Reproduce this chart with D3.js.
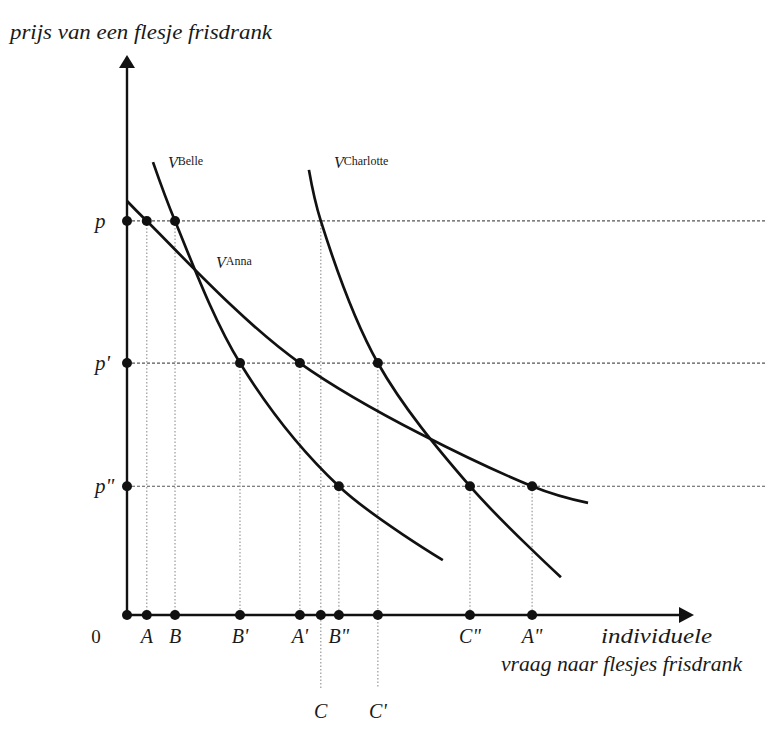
<!DOCTYPE html>
<html>
<head>
<meta charset="utf-8">
<script src="https://cdn.jsdelivr.net/npm/d3@7"></script>
<style>
  body { margin: 0; background: #fff; }
  svg text { font-family: "Liberation Serif", "DejaVu Serif", serif; fill: #1a1a1a; }
</style>
</head>
<body>
<svg id="chart"></svg>
<script>
// price levels (y) and their labels
const prices = [71, 45.4, 23.2];
const priceLabels = ["p", "p'", "p\""];

// quantity demanded per person at each price level
const annaQ = [3.5, 30.6, 71.7];
const belleQ = [8.5, 20, 37.5];
const charlotteQ = [34.3, 44.4, 60.7];

const annaLabels = ["A", "A'", "A\""];
const belleLabels = ["B", "B'", "B\""];
const charlotteLabels = ["C", "C'", "C\""];

// extra curve points: [start, end] as [q, price]
const annaEnds = [[0, 74.6], [81.6, 20.2]];
const belleEnds = [[4.6, 81.6], [55.9, 9.9]];
const charlotteEnds = [[32.2, 80.2], [76.8, 6.8]];

const width = 767;
const height = 732;

const svg = d3.select("#chart").attr("width", width).attr("height", height);

const x = d3.scaleLinear().domain([0, 100]).range([127, 692]);
const y = d3.scaleLinear().domain([0, 100]).range([615, 60]);

function curvePoints(ends, qs) {
  let pts = [ends[0]];
  qs.forEach(function (q, i) {
    pts.push([q, prices[i]]);
  });
  pts.push(ends[1]);
  return pts;
}

const line = d3.line()
  .x(function (d) { return x(d[0]); })
  .y(function (d) { return y(d[1]); })
  .curve(d3.curveCatmullRom.alpha(0.5));

// horizontal dashed price lines
svg.selectAll("line.hp")
  .data(prices)
  .enter()
  .append("line")
  .attr("x1", x(0))
  .attr("x2", width)
  .attr("y1", function (d) { return y(d); })
  .attr("y2", function (d) { return y(d); })
  .attr("stroke", "#555")
  .attr("stroke-width", 1.2)
  .attr("stroke-dasharray", "3,2");

// vertical dotted lines
let people = [
  { q: annaQ, labels: annaLabels, ends: annaEnds, name: "Anna" },
  { q: belleQ, labels: belleLabels, ends: belleEnds, name: "Belle" },
  { q: charlotteQ, labels: charlotteLabels, ends: charlotteEnds, name: "Charlotte" }
];

let drops = [];
people.forEach(function (p) {
  p.q.forEach(function (q, i) {
    drops.push({ q: q, price: prices[i], label: p.labels[i], name: p.name });
  });
});

svg.selectAll("line.vp")
  .data(drops)
  .enter()
  .append("line")
  .attr("x1", function (d) { return x(d.q); })
  .attr("x2", function (d) { return x(d.q); })
  .attr("y1", function (d) { return y(d.price); })
  .attr("y2", function (d) {
    return d.label == "C" || d.label == "C'" ? 688 : y(0);
  })
  .attr("stroke", "#999")
  .attr("stroke-width", 1.2)
  .attr("stroke-dasharray", "1.5,2");

// demand curves
svg.selectAll("path.curve")
  .data(people)
  .enter()
  .append("path")
  .attr("d", function (p) { return line(curvePoints(p.ends, p.q)); })
  .attr("fill", "none")
  .attr("stroke", "#111")
  .attr("stroke-width", 2.7);

// axes
svg.append("line")
  .attr("x1", x(0)).attr("x2", x(0))
  .attr("y1", y(0)).attr("y2", 66)
  .attr("stroke", "#111").attr("stroke-width", 2.4);
svg.append("line")
  .attr("x1", x(0)).attr("x2", 682)
  .attr("y1", y(0)).attr("y2", y(0))
  .attr("stroke", "#111").attr("stroke-width", 2.4);
svg.append("path")
  .attr("d", "M" + x(0) + ",55 L" + (x(0) - 8) + ",68 L" + (x(0) + 8) + ",68 Z")
  .attr("fill", "#111");
svg.append("path")
  .attr("d", "M694," + y(0) + " L679," + (y(0) - 8) + " L679," + (y(0) + 8) + " Z")
  .attr("fill", "#111");

// dots on curves (Charlotte at p has none)
svg.selectAll("circle.pt")
  .data(drops.filter(function (d) { return d.label != "C"; }))
  .enter()
  .append("circle")
  .attr("cx", function (d) { return x(d.q); })
  .attr("cy", function (d) { return y(d.price); })
  .attr("r", 5)
  .attr("fill", "#111");

// dots on x axis
svg.selectAll("circle.xq")
  .data([0].concat(drops.map(function (d) { return d.q; })))
  .enter()
  .append("circle")
  .attr("cx", function (d) { return x(d); })
  .attr("cy", y(0))
  .attr("r", 5)
  .attr("fill", "#111");

// dots on y axis
svg.selectAll("circle.yp")
  .data(prices)
  .enter()
  .append("circle")
  .attr("cx", x(0))
  .attr("cy", function (d) { return y(d); })
  .attr("r", 5)
  .attr("fill", "#111");

// price labels
svg.selectAll("text.pl")
  .data(prices)
  .enter()
  .append("text")
  .text(function (d, i) { return priceLabels[i]; })
  .attr("x", 95)
  .attr("y", function (d) { return y(d) + 7; })
  .attr("font-size", "21px")
  .attr("font-style", "italic");

// quantity labels
svg.selectAll("text.ql")
  .data(drops)
  .enter()
  .append("text")
  .text(function (d) { return d.label; })
  .attr("x", function (d) { return x(d.q); })
  .attr("y", function (d) {
    return d.label == "C" || d.label == "C'" ? 718 : 643;
  })
  .attr("text-anchor", "middle")
  .attr("font-size", "20px")
  .attr("font-style", "italic");

svg.append("text")
  .text("0")
  .attr("x", 96).attr("y", 643)
  .attr("text-anchor", "middle")
  .attr("font-size", "19px");

// axis titles
svg.append("text")
  .text("prijs van een flesje frisdrank")
  .attr("x", 10).attr("y", 39)
  .attr("font-size", "20px")
  .attr("font-style", "italic")
  .attr("textLength", 262)
  .attr("lengthAdjust", "spacingAndGlyphs");

svg.append("text")
  .text("individuele")
  .attr("x", 601).attr("y", 643)
  .attr("font-size", "20px")
  .attr("font-style", "italic")
  .attr("textLength", 111)
  .attr("lengthAdjust", "spacingAndGlyphs");

svg.append("text")
  .text("vraag naar flesjes frisdrank")
  .attr("x", 501).attr("y", 671)
  .attr("font-size", "20px")
  .attr("font-style", "italic")
  .attr("textLength", 241)
  .attr("lengthAdjust", "spacingAndGlyphs");

// curve labels
let curveLabels = [
  { name: "Belle", x: 168, y: 168 },
  { name: "Charlotte", x: 334, y: 168 },
  { name: "Anna", x: 216, y: 268 }
];

let cl = svg.selectAll("text.cl")
  .data(curveLabels)
  .enter()
  .append("text")
  .attr("x", function (d) { return d.x; })
  .attr("y", function (d) { return d.y; });
cl.append("tspan")
  .text("V")
  .attr("font-size", "16px")
  .attr("font-style", "italic");
cl.append("tspan")
  .text(function (d) { return d.name; })
  .attr("dx", 0)
  .attr("dy", -3)
  .attr("font-size", "12px");
</script>
</body>
</html>
